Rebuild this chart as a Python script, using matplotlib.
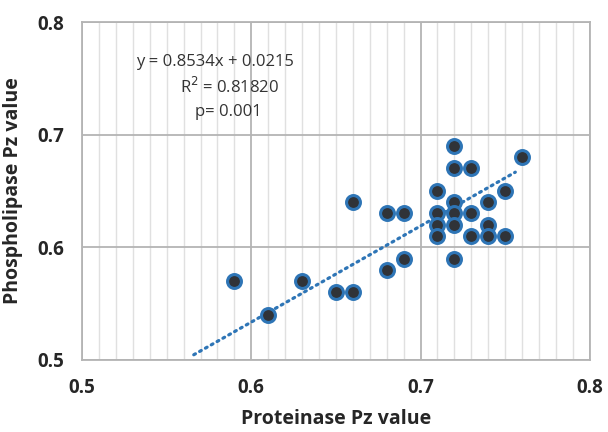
import numpy as np
import matplotlib
matplotlib.use("Agg")
import matplotlib.pyplot as plt
from matplotlib.ticker import MultipleLocator

# Proteinase vs phospholipase Pz values
proteinase = [0.59, 0.61, 0.63, 0.65, 0.66, 0.66, 0.68, 0.69, 0.68, 0.69,
              0.71, 0.71, 0.71, 0.71, 0.72, 0.72, 0.72, 0.72, 0.72, 0.72,
              0.73, 0.73, 0.73, 0.74, 0.74, 0.74, 0.75, 0.75, 0.76]
phospholipase = [0.57, 0.54, 0.57, 0.56, 0.56, 0.64, 0.63, 0.63, 0.58, 0.59,
                 0.65, 0.63, 0.62, 0.61, 0.69, 0.67, 0.64, 0.63, 0.62, 0.59,
                 0.67, 0.63, 0.61, 0.64, 0.62, 0.61, 0.65, 0.61, 0.68]

slope = 0.8534
intercept = 0.0215
trend_range = [0.566, 0.756]

plt.rcParams['font.family'] = ['Open Sans', 'DejaVu Sans']

fig = plt.figure(figsize=(6.08, 4.32), dpi=100)
ax = fig.add_axes([0.135, 0.167, 0.835, 0.782])

ax.set_xlim(0.5, 0.8)
ax.set_ylim(0.5, 0.8)
ax.xaxis.set_major_locator(MultipleLocator(0.1))
ax.xaxis.set_minor_locator(MultipleLocator(0.01))
ax.yaxis.set_major_locator(MultipleLocator(0.1))

ax.grid(True, which='major', color='#b4b4b4', linewidth=1.3)
ax.grid(True, which='minor', axis='x', color='#e0e0e0', linewidth=1.0)
ax.set_axisbelow(True)
for s in ax.spines.values():
    s.set_color('#b4b4b4')
    s.set_linewidth(1.3)
ax.tick_params(which='both', length=0, pad=13)

# trendline
tx = np.array(trend_range)
ax.plot(tx, slope * tx + intercept, color='#2e75b6', linewidth=2.3,
        linestyle=(0, (0.6, 1.5)), dash_capstyle='round', zorder=3)

ax.plot(proteinase, phospholipase, 'o', markersize=10, markerfacecolor='#303338',
        markeredgecolor='#2e75b6', markeredgewidth=2.2, zorder=4)

for lbl in ax.get_xticklabels() + ax.get_yticklabels():
    lbl.set_fontweight('bold')
    lbl.set_fontsize(13.5)
    lbl.set_color('#262626')

ax.set_xlabel('Proteinase Pz value', fontsize=14, fontweight='bold', color='#262626', labelpad=8)
ax.set_ylabel('Phospholipase Pz value', fontsize=14, fontweight='bold', color='#262626', labelpad=10)

ax.text(0.5 + (215 - 82) / 1700, 0.8 - (62 - 22) / 1130, 'y = 0.8534x + 0.0215',
        ha='center', va='center', fontsize=12, color='#333333')
ax.text(0.5 + (230 - 82) / 1700, 0.8 - (87 - 22) / 1130, 'R$^2$ = 0.81820',
        ha='center', va='center', fontsize=12, color='#333333')
ax.text(0.5 + (229 - 82) / 1700, 0.8 - (112 - 22) / 1130, 'p= 0.001',
        ha='center', va='center', fontsize=12, color='#333333')

fig.savefig('out.png', dpi=100)
